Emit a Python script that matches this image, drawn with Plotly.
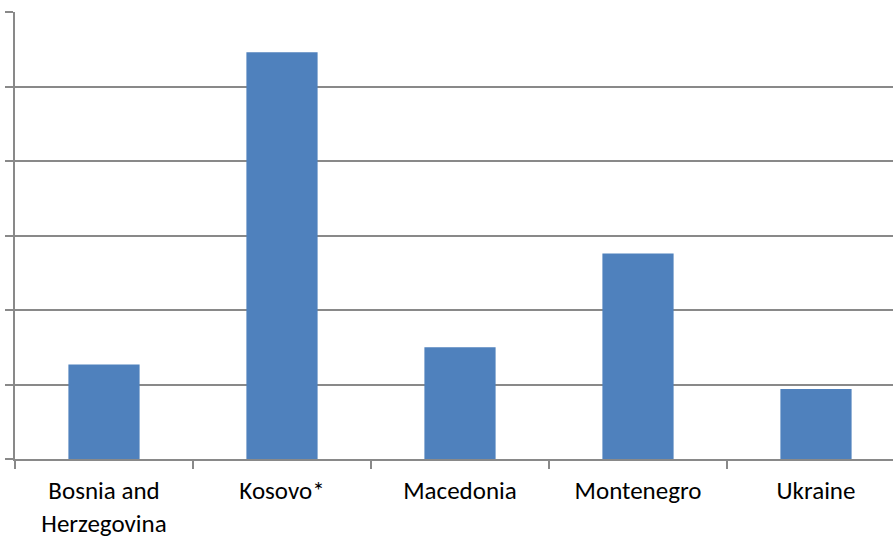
import plotly.graph_objects as go

categories = ["Bosnia and<br>Herzegovina", "Kosovo*", "Macedonia", "Montenegro", "Ukraine"]
values = [1.27, 5.46, 1.50, 2.76, 0.94]

GRAY = "#898989"
BLUE = "#4F81BD"

fig = go.Figure(go.Bar(x=categories, y=values, marker=dict(color=BLUE, line=dict(width=0))))

fig.update_layout(
    width=893, height=539,
    margin=dict(l=15, r=0, t=12, b=80),
    paper_bgcolor="white", plot_bgcolor="white",
    bargap=0.6,
    showlegend=False,
    font=dict(family="Calibri, Carlito, Lato, sans-serif", size=25, color="#000000"),
)
fig.update_xaxes(
    type="category",
    range=[-0.5, 4.4326],
    showline=True, linecolor=GRAY, linewidth=2,
    ticks="outside", ticklen=8, tickcolor=GRAY, tickwidth=2,
    tickson="boundaries",
    showgrid=False,
    tickfont=dict(size=25),
    ticklabelstandoff=8,
    automargin=False,
)
fig.update_yaxes(
    range=[0, 6], dtick=1,
    showline=True, linecolor=GRAY, linewidth=2,
    ticks="outside", ticklen=8, tickcolor=GRAY, tickwidth=2,
    showgrid=True, gridcolor=GRAY, gridwidth=2,
    zeroline=False,
    showticklabels=False,
    automargin=False,
)

fig.write_html("out.html")
